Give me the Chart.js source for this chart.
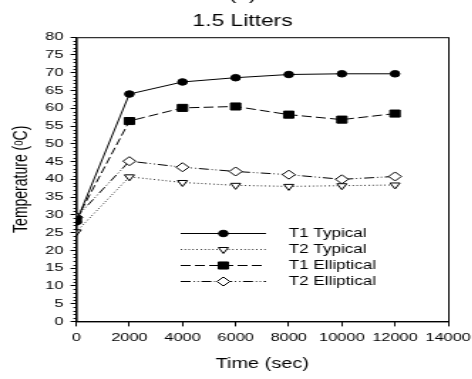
<!DOCTYPE html>
<html>
<head>
<meta charset="utf-8">
<script src="https://cdn.jsdelivr.net/npm/chart.js@4.4.0/dist/chart.umd.min.js"></script>
<style>
  html, body { margin: 0; padding: 0; background: #fff; overflow: hidden; }
  #wrap { position: absolute; left: 0; top: -18px; width: 478px; height: 397px; }
  /* the reference figure is stretched sideways, so the canvas is too */
  #chart { width: 477.7px !important; height: 397px !important; }
</style>
</head>
<body>
<div id="wrap"><canvas id="chart" width="336" height="397" style="width:477.7px;height:397px"></canvas></div>
<script>
// Data
const times = [0, 2000, 4000, 6000, 8000, 10000, 12000];
const t1Typical = [28, 64, 67.4, 68.6, 69.5, 69.7, 69.7];
const t2Typical = [25.2, 40.7, 39.1, 38.3, 38, 38.2, 38.4];
const t1Elliptical = [28.6, 56.4, 60.1, 60.5, 58.2, 56.8, 58.5];
const t2Elliptical = [29.3, 45.1, 43.4, 42.2, 41.3, 40, 40.8];
const seriesNames = ["T1 Typical", "T2 Typical", "T1 Elliptical", "T2 Elliptical"];
const yTicks = [0, 5, 10, 15, 20, 25, 30, 35, 40, 45, 50, 55, 60, 65, 70, 75, 80];
const xTicks = [0, 2000, 4000, 6000, 8000, 10000, 12000, 14000];

const FONT = "'Liberation Sans', Arial, sans-serif";
const OFFSET_Y = 18; // canvas sits this far above the page

function pts(vals) {
  return times.map((t, i) => ({ x: t, y: vals[i] }));
}

// frame, minor y ticks and the in-plot legend
const decor = {
  id: "decor",
  afterDatasetsDraw(chart) {
    const ctx = chart.ctx;
    const a = chart.chartArea;
    const y = chart.scales.y;
    ctx.save();
    ctx.strokeStyle = "#000";
    ctx.lineWidth = 1;
    ctx.strokeRect(a.left + 0.5, a.top + 0.5, a.right - a.left, a.bottom - a.top);
    for (let v = 0; v <= 80; v++) {
      if (v % 5 === 0) continue;
      const py = Math.round(y.getPixelForValue(v)) + 0.5;
      ctx.beginPath();
      ctx.moveTo(a.left - 2, py);
      ctx.lineTo(a.left, py);
      ctx.stroke();
    }

    // legend
    const x0 = 127, x1 = 187, tx = 203, rows = [234, 250, 266, 282];
    chart.data.datasets.forEach((ds, i) => {
      const ry = rows[i] + OFFSET_Y - 0.5;
      ctx.save();
      ctx.setLineDash(ds.borderDash || []);
      ctx.strokeStyle = "#000";
      ctx.lineWidth = 1;
      ctx.beginPath();
      ctx.moveTo(x0, ry);
      ctx.lineTo(x1, ry);
      ctx.stroke();
      ctx.setLineDash([]);
      ctx.fillStyle = ds.pointBackgroundColor;
      Chart.helpers.drawPoint(ctx, {
        pointStyle: ds.pointStyle,
        radius: ds.pointRadius,
        rotation: ds.pointRotation || 0,
        borderWidth: 1
      }, (x0 + x1) / 2, ry);
      ctx.restore();
      ctx.fillStyle = "#000";
      ctx.font = "12px " + FONT;
      ctx.textBaseline = "middle";
      ctx.fillText(ds.label, tx, ry);
    });
    ctx.restore();
  }
};

const mk = (label, vals, style, dash, fill, radius, rot) => ({
  label: label,
  data: pts(vals),
  borderColor: "#000",
  borderWidth: 1,
  borderDash: dash,
  pointStyle: style,
  pointRadius: radius,
  pointRotation: rot,
  pointBackgroundColor: fill,
  pointBorderColor: "#000",
  pointBorderWidth: 1,
  fill: false,
  tension: 0
});

const datasets = [
  mk(seriesNames[0], t1Typical, "circle", [], "#000", 3.3, 0),
  mk(seriesNames[1], t2Typical, "triangle", [0.8, 2], "#fff", 4, 180),
  mk(seriesNames[2], t1Elliptical, "rect", [7, 3], "#000", 5, 0),
  mk(seriesNames[3], t2Elliptical, "rectRot", [7, 2, 0.8, 2, 0.8, 2], "#fff", 4.5, 0)
];

new Chart(document.getElementById("chart"), {
  type: "line",
  data: { datasets: datasets },
  options: {
    responsive: false,
    animation: false,
    layout: { padding: { left: 7, right: 2, top: 1, bottom: 6 } },
    plugins: {
      legend: { display: false },
      tooltip: { enabled: false },
      title: {
        display: true,
        text: ["(a)", "1.5 Litters"],
        color: "#000",
        font: { family: FONT, size: 16, weight: "normal", lineHeight: 1.6 },
        padding: { top: 0, bottom: 3 }
      }
    },
    scales: {
      x: {
        type: "linear",
        min: 0,
        max: 14000,
        afterBuildTicks: (s) => { s.ticks = xTicks.map(v => ({ value: v })); },
        ticks: {
          color: "#000", font: { family: FONT, size: 11.5 }, padding: 5, maxRotation: 0,
          callback: (v) => String(v)
        },
        grid: { drawOnChartArea: false, drawTicks: true, tickLength: 5, color: "#000" },
        border: { color: "#000", width: 1 },
        title: { display: true, text: "Time (sec)", color: "#000", font: { family: FONT, size: 14 }, padding: { top: 6, bottom: 0 } }
      },
      y: {
        min: 0,
        max: 80,
        afterBuildTicks: (s) => { s.ticks = yTicks.map(v => ({ value: v })); },
        ticks: { color: "#000", font: { family: FONT, size: 11.5 }, padding: 5 },
        grid: { drawOnChartArea: false, drawTicks: true, tickLength: 4, color: "#000" },
        border: { color: "#000", width: 1 },
        title: { display: true, text: "Temperature (ᵒC)", color: "#000", font: { family: FONT, size: 14 }, padding: { top: 0, bottom: 3 } }
      }
    }
  },
  plugins: [decor]
});
</script>
</body>
</html>
